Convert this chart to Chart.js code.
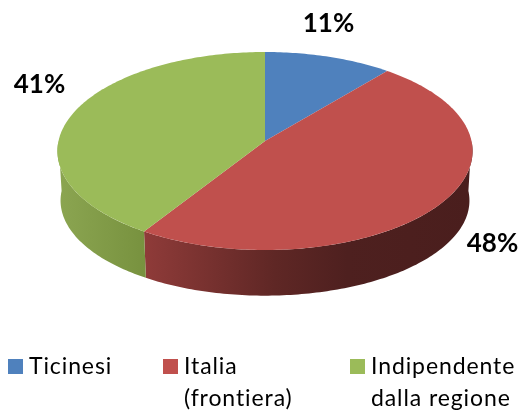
<!DOCTYPE html>
<html>
<head>
<meta charset="utf-8">
<style>
  html, body { margin: 0; padding: 0; background: #fff; }
  #wrap { position: relative; width: 521px; height: 411px; }
</style>
</head>
<body>
<div id="wrap"><canvas id="pie" width="521" height="411"></canvas></div>
<script src="https://cdn.jsdelivr.net/npm/chart.js@4"></script>
<script>
// Data
const categories = ["Ticinesi", "Italia (frontiera)", "Indipendente dalla regione"];
const values = [11, 48, 41];
const legendLines = [["Ticinesi"], ["Italia", "(frontiera)"], ["Indipendente", "dalla regione"]];
const colors = ["#4f81bd", "#c0504d", "#9bbb59"];

// Style and layout, separate from the data
const valueLabelPos = [[328.5, 32], [492.5, 252], [39.5, 93]];
const legendX = [8, 163, 350];
const wallStops = [
    null,
    [[0, "#8f3b39"], [0.4, "#5f2725"], [0.62, "#4e201f"], [1, "#4a1e1d"]],
    [[0, "#8ba551"], [1, "#78923f"]]
];

// Tilted disc with some perspective: the near half looks bigger
const disc = { cx: 265, cy: 141, rx: 206.5, ry: 98, k: 0.101, depth: 50, shrinkX: 0.985, shrinkY: 0.96 };

function project(angle, lower) {
    const u = Math.cos(angle);
    const v = Math.sin(angle);
    const w = 1 - disc.k * v;
    let x = disc.rx * u / w;
    let y = disc.ry * v / w;
    if (lower) {
        x *= disc.shrinkX;
        y = y * disc.shrinkY + disc.depth;
    }
    return [disc.cx + x, disc.cy + y];
}

function rim(ctx, from, to, lower) {
    const steps = Math.max(2, Math.ceil(Math.abs(to - from) * 60));
    for (let i = 0; i <= steps; i++) {
        const p = project(from + (to - from) * i / steps, lower);
        ctx.lineTo(p[0], p[1]);
    }
}

// Replaces the flat drawing of the arcs, angles come from the chart's own elements
const pie3d = {
    id: "pie3d",
    beforeDatasetDraw(chart, args) {
        const ctx = chart.ctx;
        const arcs = args.meta.data;
        ctx.save();
        arcs.forEach((arc, i) => {
            const from = Math.max(arc.startAngle, 0);
            const to = Math.min(arc.endAngle, Math.PI);
            if (to <= from || !wallStops[i]) return;
            const x0 = project(to, false)[0];
            const x1 = project(from, false)[0];
            const grad = ctx.createLinearGradient(Math.min(x0, x1), 0, Math.max(x0, x1), 0);
            wallStops[i].forEach(s => grad.addColorStop(s[0], s[1]));
            ctx.beginPath();
            rim(ctx, from, to, false);
            rim(ctx, to, from, true);
            ctx.closePath();
            ctx.fillStyle = grad;
            ctx.fill();
        });
        arcs.forEach(arc => {
            ctx.beginPath();
            ctx.moveTo(disc.cx, disc.cy);
            rim(ctx, arc.startAngle, arc.endAngle, false);
            ctx.closePath();
            ctx.fillStyle = arc.options.backgroundColor;
            ctx.fill();
        });
        ctx.restore();
        return false;
    },
    afterDraw(chart) {
        const ctx = chart.ctx;
        ctx.save();
        ctx.textBaseline = "alphabetic";
        // value labels
        ctx.font = "bold 26px Lato";
        ctx.fillStyle = "#000";
        ctx.textAlign = "center";
        values.forEach((v, i) => {
            ctx.fillText(v + "%", valueLabelPos[i][0], valueLabelPos[i][1]);
        });
        // legend
        ctx.textAlign = "left";
        ctx.font = "23px Lato";
        ctx.letterSpacing = "0.9px";
        legendLines.forEach((lines, i) => {
            ctx.fillStyle = colors[i];
            ctx.fillRect(legendX[i], 359, 15, 15);
            ctx.fillStyle = "#000";
            lines.forEach((line, j) => {
                ctx.fillText(line, legendX[i] + 21, 374 + j * 32);
            });
        });
        ctx.restore();
    }
};

new Chart(document.getElementById("pie"), {
    type: "pie",
    data: {
        labels: categories,
        datasets: [{ data: values, backgroundColor: colors, borderWidth: 0 }]
    },
    options: {
        responsive: false,
        animation: false,
        plugins: { legend: { display: false }, tooltip: { enabled: false } }
    },
    plugins: [pie3d]
});
</script>
</body>
</html>
